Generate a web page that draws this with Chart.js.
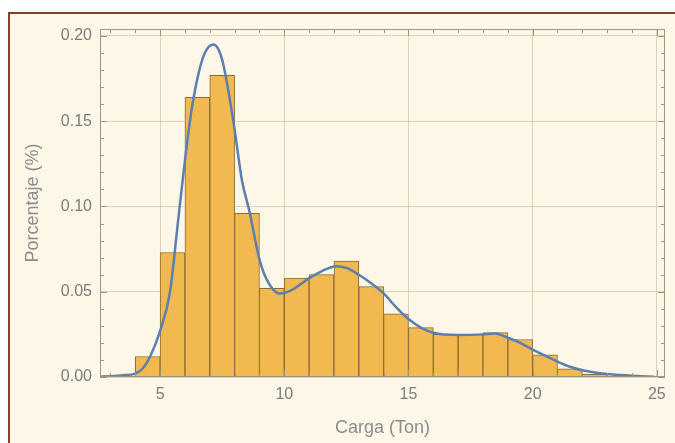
<!DOCTYPE html>
<html>
<head>
<meta charset="utf-8">
<script src="https://cdn.jsdelivr.net/npm/chart.js@4/dist/chart.umd.min.js"></script>
<style>
  html, body { margin: 0; padding: 0; background: #ffffff; overflow: hidden; }
  #box {
    position: absolute; left: 8px; top: 12px; width: 700px; height: 460px;
    border-left: 2px solid #8b3a2e; border-top: 2px solid #8b3a2e;
    background: #fdf7e7;
  }
  #wrap { position: absolute; left: 0; top: 0; width: 675px; height: 443px; }
</style>
</head>
<body>
<div id="box"></div>
<div id="wrap"><canvas id="chart" width="675" height="443"></canvas></div>
<script>
// histograma: centro de cada clase (ancho 1 ton) y porcentaje
const binCenters = [4.5, 5.5, 6.5, 7.5, 8.5, 9.5, 10.5, 11.5, 12.5, 13.5, 14.5, 15.5, 16.5, 17.5, 18.5, 19.5, 20.5, 21.5, 22.5];
const binValues = [0.012, 0.073, 0.164, 0.177, 0.096, 0.052, 0.058, 0.060, 0.068, 0.053, 0.037, 0.029, 0.025, 0.025, 0.026, 0.022, 0.013, 0.0048, 0.0015];

// curva de densidad suavizada
const curveX = [2.6, 3.0, 3.5, 4.0, 4.3, 4.6, 5.0, 5.4, 5.75, 6.2, 6.5, 6.8, 7.15, 7.5, 7.95, 8.3, 8.6, 9.0, 9.3, 9.8, 10.3, 11.0, 11.5, 12.1, 12.5, 13.0, 13.5, 14.0, 14.5, 15.0, 15.5, 16.0, 17.0, 18.0, 18.5, 19.0, 19.5, 20.0, 20.5, 21.0, 21.5, 22.0, 23.0, 24.0, 24.9];
const curveY = [0.0003, 0.0005, 0.001, 0.002, 0.005, 0.012, 0.027, 0.05, 0.095, 0.15, 0.175, 0.19, 0.195, 0.186, 0.15, 0.115, 0.097, 0.069, 0.057, 0.049, 0.051, 0.058, 0.062, 0.065, 0.064, 0.060, 0.055, 0.049, 0.041, 0.034, 0.029, 0.026, 0.0247, 0.025, 0.0255, 0.023, 0.020, 0.016, 0.0125, 0.009, 0.006, 0.004, 0.0018, 0.0008, 0.0001];

const xTicks = [5, 10, 15, 20, 25];
const yTicks = [0, 0.05, 0.10, 0.15, 0.20];
const xMinorTicks = [3, 4, 5, 6, 7, 8, 9, 10, 11, 12, 13, 14, 15, 16, 17, 18, 19, 20, 21, 22, 23, 24, 25];
const yMinorTicks = [0, 0.01, 0.02, 0.03, 0.04, 0.05, 0.06, 0.07, 0.08, 0.09, 0.10, 0.11, 0.12, 0.13, 0.14, 0.15, 0.16, 0.17, 0.18, 0.19, 0.20];

const labelFont = { family: "'Liberation Sans', Arial, sans-serif", size: 16 };
const titleFont = { family: "'Liberation Sans', Arial, sans-serif", size: 18 };

// marco estilo Mathematica con marcas hacia adentro en los cuatro lados
const framePlugin = {
  id: 'frame',
  afterDatasetsDraw(chart) {
    const { ctx, chartArea: a, scales: { x, y } } = chart;
    ctx.save();
    ctx.strokeStyle = '#a09380';
    ctx.lineWidth = 1;
    ctx.strokeRect(a.left + 0.5, a.top + 0.5, a.right - a.left - 1, a.bottom - a.top - 1);
    ctx.beginPath();
    xMinorTicks.forEach(v => {
      const px = Math.round(x.getPixelForValue(v)) + 0.5;
      const len = xTicks.includes(v) ? 7 : 4;
      ctx.moveTo(px, a.bottom); ctx.lineTo(px, a.bottom - len);
      ctx.moveTo(px, a.top); ctx.lineTo(px, a.top + len);
    });
    yMinorTicks.forEach(v => {
      const py = Math.round(y.getPixelForValue(v)) + 0.5;
      const len = yTicks.some(t => Math.abs(t - v) < 1e-9) ? 7 : 4;
      ctx.moveTo(a.left, py); ctx.lineTo(a.left + len, py);
      ctx.moveTo(a.right, py); ctx.lineTo(a.right - len, py);
    });
    ctx.stroke();
    ctx.restore();
  }
};

new Chart(document.getElementById('chart'), {
  type: 'bar',
  data: {
    datasets: [
      {
        type: 'line',
        data: curveX.map((v, i) => ({ x: v, y: curveY[i] })),
        borderColor: '#5b7fae',
        borderWidth: 2.5,
        pointRadius: 0,
        fill: false,
        cubicInterpolationMode: 'monotone',
        order: 0
      },
      {
        type: 'bar',
        data: binCenters.map((v, i) => ({ x: v, y: binValues[i] })),
        backgroundColor: '#f1b94f',
        borderColor: '#8c6a34',
        borderWidth: 1,
        barPercentage: 1,
        categoryPercentage: 1,
        grouped: false,
        order: 1
      }
    ]
  },
  options: {
    responsive: false,
    animation: false,
    layout: { padding: { left: 0, right: 10, top: 29, bottom: 0 } },
    plugins: { legend: { display: false }, tooltip: { enabled: false } },
    scales: {
      x: {
        type: 'linear',
        min: 2.58,
        max: 25.33,
        offset: false,
        afterBuildTicks: s => { s.ticks = xTicks.map(v => ({ value: v })); },
        afterFit: s => { s.height = 66; },
        grid: { offset: false, color: 'rgba(205,185,150,0.6)', drawTicks: false },
        border: { display: false },
        ticks: { color: '#7b7b7b', font: labelFont, padding: 8, maxRotation: 0 },
        title: { display: true, text: 'Carga (Ton)', color: '#8c8c8c', font: titleFont, padding: { top: 0, bottom: 4 } }
      },
      y: {
        type: 'linear',
        min: 0,
        max: 0.2041,
        afterBuildTicks: s => { s.ticks = yTicks.map(v => ({ value: v })); },
        afterFit: s => { s.width = 100; },
        grid: { color: 'rgba(205,185,150,0.6)', drawTicks: false },
        border: { display: false },
        ticks: { color: '#7b7b7b', font: labelFont, padding: 8, callback: v => v.toFixed(2) },
        title: { display: true, text: 'Porcentaje (%)', color: '#8c8c8c', font: titleFont, padding: { top: 22, bottom: 0 } }
      }
    }
  },
  plugins: [framePlugin]
});
</script>
</body>
</html>
